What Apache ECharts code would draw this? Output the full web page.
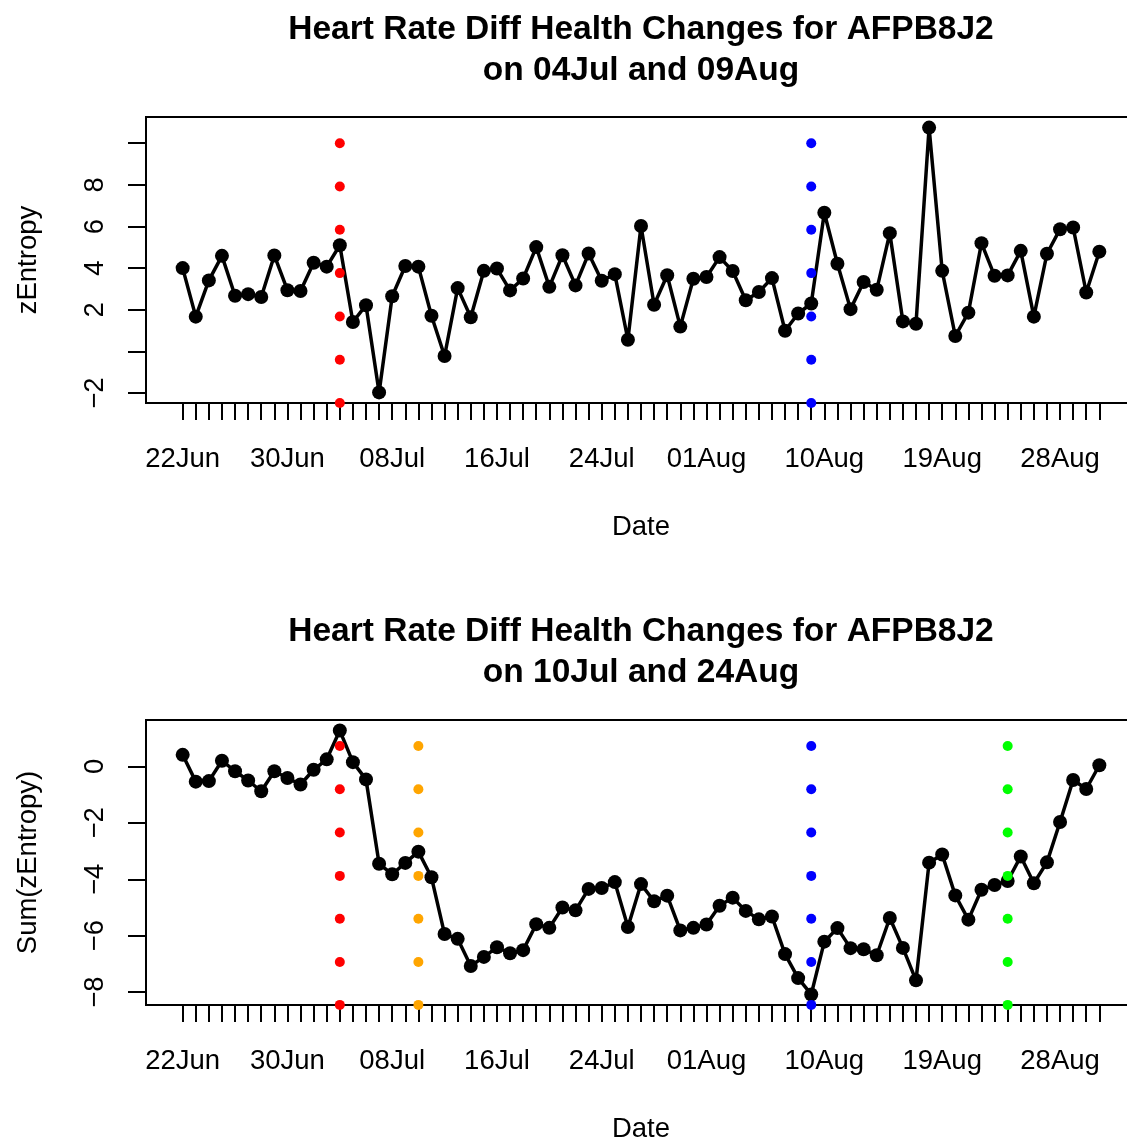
<!DOCTYPE html>
<html><head><meta charset="utf-8">
<script src="https://cdn.jsdelivr.net/npm/echarts@6/dist/echarts.min.js"></script>
<style>html,body{margin:0;padding:0;background:#fff;overflow:hidden}#c{width:1127px;height:1140px}</style>
</head><body><div id="c"></div>
<script>
// ---- data ----
const tickDays = [0, 8, 16, 24, 32, 40, 49, 58, 67];
const tickLabels = ['22Jun', '30Jun', '08Jul', '16Jul', '24Jul', '01Aug', '10Aug', '19Aug', '28Aug'];
const zEntropy = [4.00, 1.67, 3.41, 4.59, 2.67, 2.75, 2.61, 4.61, 2.94, 2.90, 4.26, 4.07, 5.10, 1.41, 2.22,
  -1.97, 2.65, 4.10, 4.07, 1.71, -0.22, 3.04, 1.64, 3.87, 3.98, 2.93, 3.50, 5.01, 3.10, 4.62,
  3.17, 4.70, 3.39, 3.71, 0.56, 6.02, 2.24, 3.66, 1.19, 3.49, 3.57, 4.53, 3.86, 2.46, 2.85,
  3.52, 0.99, 1.82, 2.30, 6.66, 4.21, 2.03, 3.33, 2.96, 5.68, 1.44, 1.33, 10.75, 3.87, 0.74,
  1.86, 5.20, 3.63, 3.65, 4.83, 1.67, 4.69, 5.87, 5.95, 2.83, 4.79];
const sumZEntropy = [0.41, -0.54, -0.52, 0.20, -0.17, -0.50, -0.88, -0.17, -0.41, -0.64, -0.12, 0.25, 1.27, 0.15, -0.46,
  -3.45, -3.82, -3.42, -3.02, -3.93, -5.94, -6.11, -7.07,
  -6.75, -6.41, -6.62, -6.51, -5.59, -5.72, -5.00, -5.10, -4.34, -4.31, -4.10, -5.69, -4.17, -4.78, -4.58, -5.81,
  -5.72, -5.60, -4.94, -4.65, -5.12, -5.42, -5.32, -6.65, -7.50,
  -8.08, -6.21, -5.73, -6.44, -6.48, -6.69, -5.37, -6.43, -7.58, -3.41, -3.12, -4.57, -5.43, -4.37, -4.20,
  -4.06, -3.19, -4.14, -3.40, -1.97, -0.48, -0.80, 0.04];
const topYTicks = [-2, 0, 2, 4, 6, 8, 10];
const topYLabels = [-2, 2, 4, 6, 8];
const bottomYTicks = [-8, -6, -4, -2, 0];
const bottomYLabels = [-8, -6, -4, -2, 0];
const topMarkerY = [-2.48, -0.40, 1.68, 3.76, 5.84, 7.92, 10.0];
const bottomMarkerY = [-8.45, -6.93, -5.40, -3.88, -2.34, -0.81, 0.72];
const topEventDays = [12, 48];
const topEventColors = ['#FF0000', '#0000FF'];
const bottomEventDays = [12, 18, 48, 63];
const bottomEventColors = ['#FF0000', '#FFA500', '#0000FF', '#00FF00'];
const topTitle = ['Heart Rate Diff Health Changes for AFPB8J2', 'on 04Jul and 09Aug'];
const bottomTitle = ['Heart Rate Diff Health Changes for AFPB8J2', 'on 10Jul and 24Aug'];

// ---- chart ----
const FONT = '"Liberation Sans", Arial, Helvetica, sans-serif';
const FS = 27.5;
const nDays = zEntropy.length;
const xPad = 0.04 * (nDays - 1);
const allDays = zEntropy.map((_, i) => i);
function yRange(arr) {
  const mn = Math.min(...arr), mx = Math.max(...arr), e = 0.04 * (mx - mn);
  return [mn - e, mx + e];
}
const tR = yRange(zEntropy), bR = yRange(sumZEntropy);
const fmtNum = v => (v < 0 ? '\u2212' + Math.abs(v) : String(v));

function xAxis(gi) {
  return {
    type: 'value', gridIndex: gi, min: -xPad, max: nDays - 1 + xPad,
    name: 'Date', nameLocation: 'middle', nameGap: 110,
    nameTextStyle: { fontFamily: FONT, fontSize: FS, color: '#000' },
    axisLine: { show: true, onZero: false, lineStyle: { color: '#000', width: 2 } },
    axisTick: { show: true, length: 17, lineStyle: { color: '#000', width: 2 }, customValues: allDays },
    axisLabel: { show: true, margin: 42, fontFamily: FONT, fontSize: FS, color: '#000',
      customValues: tickDays, formatter: v => tickLabels[tickDays.indexOf(Math.round(v))] || '' },
    splitLine: { show: false }
  };
}
function yAxis(gi, r, ticks, labels, name) {
  return {
    type: 'value', gridIndex: gi, min: r[0], max: r[1],
    name: name, nameLocation: 'middle', nameRotate: 90, nameGap: 104,
    nameTextStyle: { fontFamily: FONT, fontSize: FS, color: '#000' },
    axisLine: { show: true, onZero: false, lineStyle: { color: '#000', width: 2 } },
    axisTick: { show: true, length: 18, lineStyle: { color: '#000', width: 2 }, customValues: ticks },
    axisLabel: { show: true, rotate: 90, margin: 37, fontFamily: FONT, fontSize: FS, color: '#000',
      customValues: labels, formatter: v => fmtNum(Math.round(v)) },
    splitLine: { show: false }
  };
}
function lineSeries(gi, vals) {
  return {
    type: 'line', xAxisIndex: gi, yAxisIndex: gi, data: vals.map((v, i) => [i, v]),
    symbol: 'circle', symbolSize: 14, showAllSymbol: true,
    lineStyle: { color: '#000', width: 3.5 }, itemStyle: { color: '#000' },
    z: 2, silent: true, animation: false, clip: false
  };
}
function markerSeries(gi, days, colors, ys) {
  return days.map((d, k) => ({
    type: 'scatter', xAxisIndex: gi, yAxisIndex: gi, data: ys.map(y => [d, y]),
    symbol: 'circle', symbolSize: 10, itemStyle: { color: colors[k], opacity: 1 },
    z: 3, silent: true, animation: false
  }));
}
function titleText(lines, y0) {
  return lines.map((t, k) => ({
    type: 'text', x: 641, y: y0 + k * 41, silent: true,
    style: { text: t, font: 'bold 33.5px ' + FONT, fill: '#000',
      align: 'center', verticalAlign: 'middle', textAlign: 'center', textVerticalAlign: 'middle' }
  }));
}

const chart = echarts.init(document.getElementById('c'), null, { renderer: 'canvas' });
chart.setOption({
  backgroundColor: '#fff',
  animation: false,
  grid: [
    { left: 146, top: 117, width: 990, height: 286, outerBoundsMode: 'none', containLabel: false,
      show: true, borderColor: '#000', borderWidth: 2, backgroundColor: 'transparent' },
    { left: 146, top: 720, width: 990, height: 285, outerBoundsMode: 'none', containLabel: false,
      show: true, borderColor: '#000', borderWidth: 2, backgroundColor: 'transparent' }
  ],
  xAxis: [xAxis(0), xAxis(1)],
  yAxis: [
    yAxis(0, tR, topYTicks, topYLabels, 'zEntropy'),
    yAxis(1, bR, bottomYTicks, bottomYLabels, 'Sum(zEntropy)')
  ],
  graphic: [...titleText(topTitle, 30), ...titleText(bottomTitle, 632)],
  series: [
    lineSeries(0, zEntropy),
    ...markerSeries(0, topEventDays, topEventColors, topMarkerY),
    lineSeries(1, sumZEntropy),
    ...markerSeries(1, bottomEventDays, bottomEventColors, bottomMarkerY)
  ]
});
</script></body></html>
